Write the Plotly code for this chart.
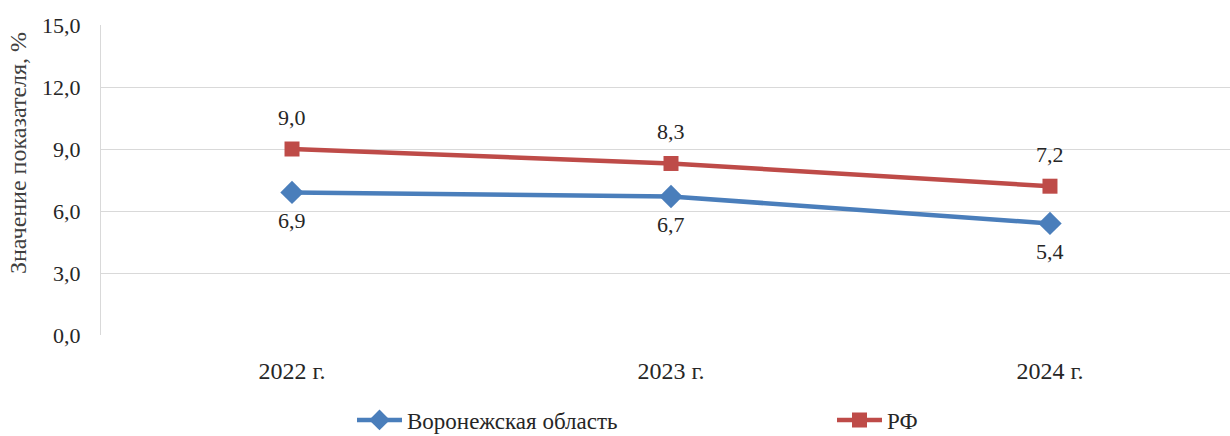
import plotly.graph_objects as go

years = ["2022 г.", "2023 г.", "2024 г."]
voronezh = [6.9, 6.7, 5.4]
russia = [9.0, 8.3, 7.2]
y_ticks = [0, 3, 6, 9, 12, 15]
y_tick_text = ["0,0", "3,0", "6,0", "9,0", "12,0", "15,0"]

BLUE = "#4A7EBB"
RED = "#BE4B48"
FONT = "Liberation Serif, Times New Roman, serif"
TEXT = "#262626"


def fmt(v):
    return f"{v:.1f}".replace(".", ",")


fig = go.Figure()
fig.add_trace(go.Scatter(
    x=years, y=voronezh, name="Воронежская область", mode="lines+markers",
    line=dict(color=BLUE, width=4.5),
    marker=dict(symbol="diamond", size=18, color=BLUE),
))
fig.add_trace(go.Scatter(
    x=years, y=russia, name="РФ", mode="lines+markers",
    line=dict(color=RED, width=4.5),
    marker=dict(symbol="square", size=15, color=RED),
))

# value labels: below the regional line, above the national one
for x, v in zip(years, voronezh):
    fig.add_annotation(x=x, y=v, text=fmt(v), showarrow=False, yshift=-28,
                       font=dict(family=FONT, size=22, color=TEXT))
for x, v in zip(years, russia):
    fig.add_annotation(x=x, y=v, text=fmt(v), showarrow=False, yshift=32,
                       font=dict(family=FONT, size=22, color=TEXT))
fig.add_annotation(
    xref="paper", yref="paper", x=(18 - 101) / 1129, y=(335 - 153) / 310,
    text="Значение показателя, %", textangle=-90, showarrow=False,
    xanchor="center", yanchor="middle",
    font=dict(family=FONT, size=24, color="#404040"),
)

fig.update_layout(
    template="none",
    width=1230, height=436,
    margin=dict(l=101, r=0, t=25, b=101, autoexpand=False),
    paper_bgcolor="white", plot_bgcolor="white",
    font=dict(family=FONT, size=22, color=TEXT),
    showlegend=True,
    legend=dict(
        orientation="h", x=(352 - 101) / 1129, xanchor="left",
        y=-(420 - 335) / 310, yanchor="middle",
        entrywidth=420, entrywidthmode="pixels", itemwidth=45,
        font=dict(family=FONT, size=23, color=TEXT),
    ),
)
fig.update_xaxes(
    type="category", range=[-0.504, 2.475],
    showgrid=False, showline=False, zeroline=False,
    ticks="outside", ticklen=14, tickcolor="rgba(0,0,0,0)",
    tickfont=dict(family=FONT, size=24, color=TEXT),
)
fig.update_yaxes(
    range=[0, 15], tickvals=y_ticks, ticktext=y_tick_text,
    showgrid=True, gridcolor="#D9D9D9", gridwidth=1,
    showline=True, linecolor="#D9D9D9", linewidth=1,
    zeroline=False,
    ticks="outside", ticklen=15, tickcolor="rgba(0,0,0,0)",
    tickfont=dict(family=FONT, size=22, color=TEXT),
)

fig.write_html("out.html")
